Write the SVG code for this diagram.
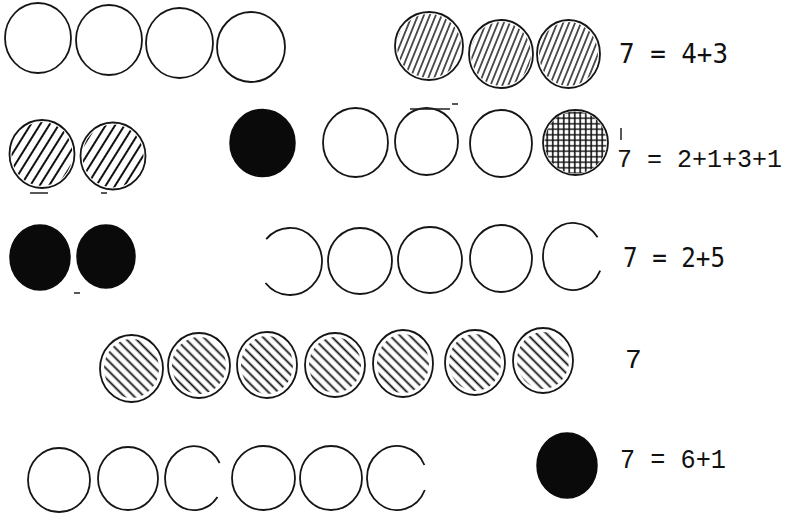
<svg xmlns="http://www.w3.org/2000/svg" width="792" height="516" viewBox="0 0 792 516">
<style>
.o{fill:none;stroke:#151515;stroke-width:1.8}
.k{fill:#0a0a0a;stroke:#0a0a0a;stroke-width:1.5}
.ha{fill:url(#hA);stroke:none}
.hb{fill:url(#hB);stroke:none}
.hc{fill:url(#hC);stroke:none}
.hx{fill:url(#hX);stroke:none}
.t1{font-family:"DejaVu Sans Mono",monospace;font-size:27px;fill:#111}
.t2{font-family:"Liberation Mono","Courier New",monospace;font-size:28px;fill:#111}
.t3{font-family:"Liberation Mono","Courier New",monospace;font-size:25px;fill:#111}
.m{stroke:#222;stroke-width:1.5;fill:none}
</style>
<defs>
<pattern id="hA" width="5.5" height="10" patternUnits="userSpaceOnUse" patternTransform="rotate(22)"><line x1="2.75" y1="0" x2="2.75" y2="10" stroke="#111" stroke-width="1.4"/></pattern>
<pattern id="hB" width="8" height="10" patternUnits="userSpaceOnUse" patternTransform="rotate(32)"><line x1="4" y1="0" x2="4" y2="10" stroke="#111" stroke-width="2"/></pattern>
<pattern id="hC" width="7" height="10" patternUnits="userSpaceOnUse" patternTransform="rotate(-45)"><line x1="3.5" y1="0" x2="3.5" y2="10" stroke="#111" stroke-width="1.8"/></pattern>
<pattern id="hX" width="5.5" height="5.5" patternUnits="userSpaceOnUse"><path d="M2.75 0V5.5M0 2.75H5.5" stroke="#111" stroke-width="1.6"/></pattern>
</defs>
<rect width="792" height="516" fill="#fff"/>

<!-- Row 1 -->
<g id="r1-o1"><ellipse class="o" cx="38" cy="38" rx="33" ry="35"/></g>
<g id="r1-o2"><ellipse class="o" cx="109" cy="40" rx="33" ry="35"/></g>
<g id="r1-o3"><ellipse class="o" cx="179.5" cy="43" rx="33.5" ry="35"/></g>
<g id="r1-o4"><ellipse class="o" cx="251" cy="47" rx="34" ry="35" stroke-width="1.5"/></g>
<g id="r1-h1"><ellipse class="ha" cx="429" cy="46" rx="32" ry="32"/><ellipse class="o" cx="429" cy="46" rx="34" ry="34"/></g>
<g id="r1-h2"><ellipse class="ha" cx="501" cy="54" rx="30" ry="32"/><ellipse class="o" cx="501" cy="54" rx="32" ry="34"/></g>
<g id="r1-h3"><ellipse class="ha" cx="568.5" cy="54" rx="29.5" ry="32"/><ellipse class="o" cx="568.5" cy="54" rx="31.5" ry="34"/></g>
<g id="r1-eq"><text class="t1" x="619" y="63" textLength="109" lengthAdjust="spacingAndGlyphs">7 = 4+3</text></g>

<!-- Row 2 -->
<g id="r2-h1"><ellipse class="hb" cx="42" cy="154" rx="30.5" ry="32"/><ellipse class="o" cx="42" cy="154" rx="32.5" ry="34"/></g>
<g id="r2-h2"><ellipse class="hb" cx="113" cy="156" rx="30.5" ry="31.5"/><ellipse class="o" cx="113" cy="156" rx="32.5" ry="33.5"/></g>
<g id="r2-b1"><ellipse class="k" cx="262.5" cy="143" rx="32.5" ry="33.5"/></g>
<g id="r2-o1"><ellipse class="o" cx="355.5" cy="142.5" rx="32.5" ry="34.5"/></g>
<g id="r2-o2"><ellipse class="o" cx="426.5" cy="141.5" rx="31.5" ry="33.5"/></g>
<g id="r2-o3"><ellipse class="o" cx="501" cy="143.5" rx="31" ry="33.5"/></g>
<g id="r2-x1"><ellipse class="hx" cx="575.5" cy="142.5" rx="31" ry="31"/><ellipse class="o" cx="575.5" cy="142.5" rx="32.5" ry="32.5"/></g>
<g id="r2-eq"><text class="t3" x="617" y="167">7 = 2+1+3+1</text></g>

<!-- Row 3 -->
<g id="r3-b1"><ellipse class="k" cx="40" cy="257.5" rx="30" ry="32.5"/></g>
<g id="r3-b2"><ellipse class="k" cx="106" cy="256.5" rx="29" ry="31.5"/></g>
<g id="r3-o1"><path class="o" d="M266.2 239.1A32 33.5 0 1 1 265.5 283"/></g>
<g id="r3-o2"><ellipse class="o" cx="360" cy="261" rx="32" ry="33"/></g>
<g id="r3-o3"><ellipse class="o" cx="430" cy="260" rx="32" ry="33"/></g>
<g id="r3-o4"><ellipse class="o" cx="501" cy="258.5" rx="31" ry="33.5"/></g>
<g id="r3-o5"><path class="o" d="M597.6 237.3A30 33.5 0 1 0 600.2 270.6"/></g>
<g id="r3-eq"><text class="t1" x="623" y="267" textLength="102" lengthAdjust="spacingAndGlyphs">7 = 2+5</text></g>

<!-- Row 4 -->
<g id="r4-h1"><ellipse class="hc" cx="131.5" cy="368.5" rx="27.5" ry="29.5"/><ellipse class="o" cx="131.5" cy="368.5" rx="31.5" ry="33.5"/></g>
<g id="r4-h2"><ellipse class="hc" cx="199" cy="365.5" rx="27" ry="28.5"/><ellipse class="o" cx="199" cy="365.5" rx="31" ry="32.5"/></g>
<g id="r4-h3"><ellipse class="hc" cx="267" cy="365" rx="26" ry="29"/><ellipse class="o" cx="267" cy="365" rx="30" ry="33"/></g>
<g id="r4-h4"><ellipse class="hc" cx="335" cy="365" rx="26" ry="28"/><ellipse class="o" cx="335" cy="365" rx="30" ry="32"/></g>
<g id="r4-h5"><ellipse class="hc" cx="403" cy="363.5" rx="26" ry="29.5"/><ellipse class="o" cx="403" cy="363.5" rx="30" ry="33.5"/></g>
<g id="r4-h6"><ellipse class="hc" cx="475" cy="362.5" rx="26" ry="28.5"/><ellipse class="o" cx="475" cy="362.5" rx="30" ry="32.5"/></g>
<g id="r4-h7"><ellipse class="hc" cx="543" cy="360.5" rx="26" ry="28.5"/><ellipse class="o" cx="543" cy="360.5" rx="30" ry="32.5"/></g>
<g id="r4-eq"><text class="t2" x="625" y="368">7</text></g>

<!-- Row 5 -->
<g id="r5-o1"><ellipse class="o" cx="59" cy="480" rx="31" ry="32"/></g>
<g id="r5-o2"><ellipse class="o" cx="128" cy="478.5" rx="30" ry="31.5"/></g>
<g id="r5-o3"><path class="o" d="M219.6 463A29 32 0 1 0 217.5 497"/></g>
<g id="r5-o4"><ellipse class="o" cx="263.5" cy="478" rx="31.5" ry="32"/></g>
<g id="r5-o5"><ellipse class="o" cx="331" cy="478" rx="31" ry="32"/></g>
<g id="r5-o6"><path class="o" d="M424.4 465A30 32 0 1 0 424.8 490"/></g>
<g id="r5-b1"><ellipse class="k" cx="567" cy="465.5" rx="30" ry="32.5"/></g>
<g id="r5-eq"><text class="t2" x="620" y="468" textLength="106" lengthAdjust="spacingAndGlyphs">7 = 6+1</text></g>

<!-- small stray marks -->
<g id="marks">
<path class="m" d="M30 193H48M101 193H107M410 109H450M452 104H458M621 128V140M74 293H80"/>
</g>
</svg>
